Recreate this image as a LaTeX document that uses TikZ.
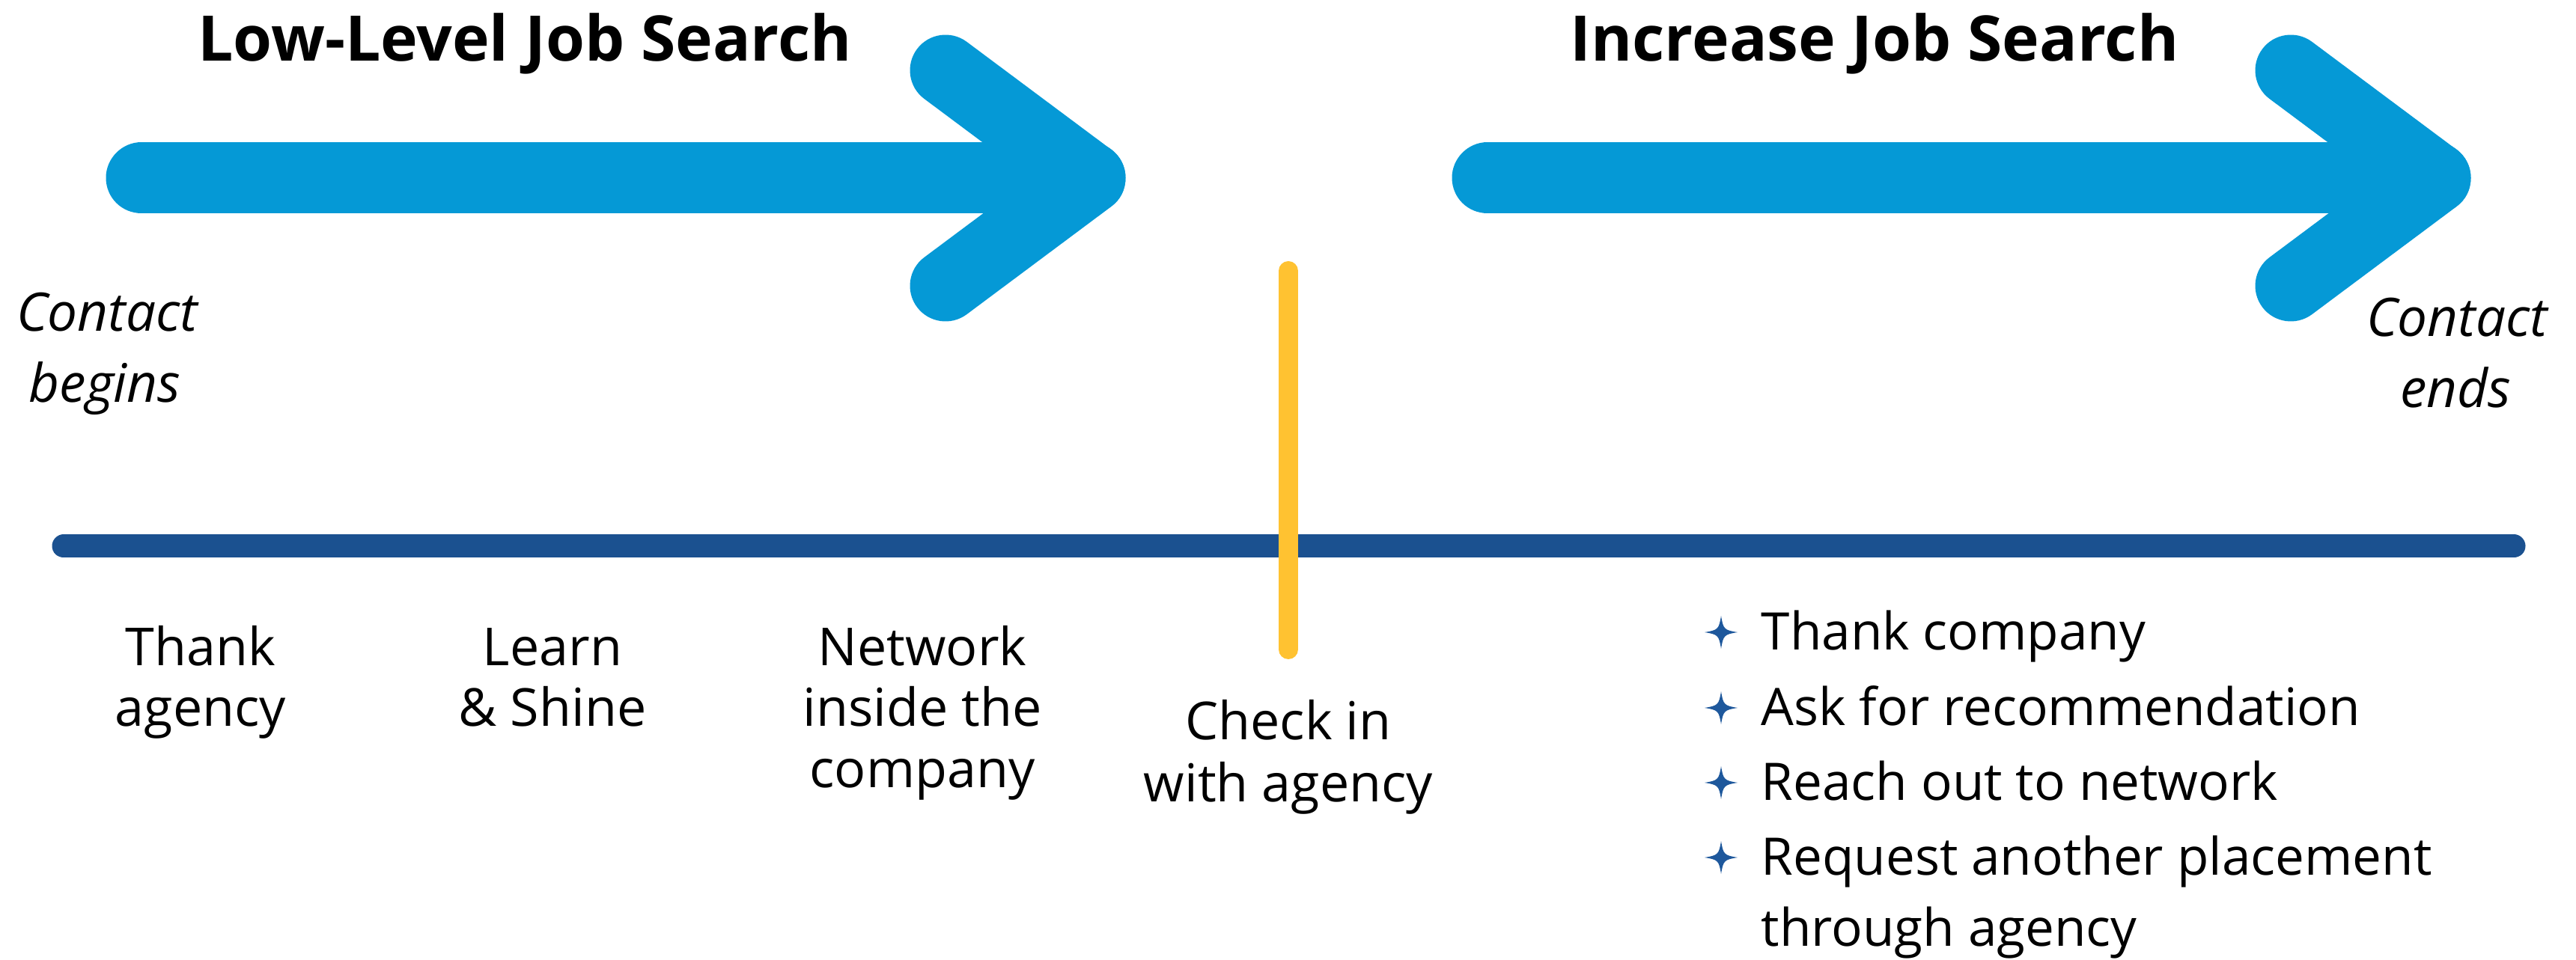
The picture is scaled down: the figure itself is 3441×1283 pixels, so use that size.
\documentclass[tikz,border=0pt]{standalone}
\usepackage{fontspec}
\setmainfont{Open Sans}
\definecolor{arrowblue}{RGB}{5,153,214}
\definecolor{lineblue}{RGB}{27,81,144}
\definecolor{markyellow}{RGB}{255,194,49}
\definecolor{starblue}{RGB}{30,88,156}
\begin{document}
\begin{tikzpicture}[x=0.25pt,y=-0.25pt,
  bigarrow/.style={draw=arrowblue, line width=23.75pt, line cap=round, line join=round},
  timeline/.style={draw=lineblue, line width=7.75pt, line cap=round},
  marker/.style={draw=markyellow, line width=6.5pt, line cap=round},
  title/.style={font=\fontsize{21}{25}\selectfont\bfseries, anchor=base, inner sep=0pt},
  lbl/.style={font=\fontsize{17.5}{20.5}\selectfont, anchor=base, inner sep=0pt},
  itlbl/.style={font=\fontsize{17.75}{24}\selectfont\itshape, anchor=base, inner sep=0pt},
  blt/.style={font=\fontsize{17.3}{24}\selectfont, anchor=base west, inner sep=0pt},
  starpic/.pic={\fill[starblue] (0,-22) .. controls (3,-4) and (4,-3) .. (22,0)
      .. controls (4,3) and (3,4) .. (0,22) .. controls (-3,4) and (-4,3) .. (-22,0)
      .. controls (-4,-3) and (-3,-4) .. cycle;}]
\useasboundingbox (0,0) rectangle (3441,1283);

% arrows
\coordinate (a1s) at (189,238);
\coordinate (a1t) at (1456,238);
\coordinate (a1u) at (1263,94);
\coordinate (a1d) at (1263,382);
\draw[bigarrow] (a1s) -- (a1t);
\draw[bigarrow] (a1u) -- (a1t) -- (a1d);

\coordinate (a2s) at (1987,238);
\coordinate (a2t) at (3253,238);
\coordinate (a2u) at (3060,94);
\coordinate (a2d) at (3060,382);
\draw[bigarrow] (a2s) -- (a2t);
\draw[bigarrow] (a2u) -- (a2t) -- (a2d);

% timeline
\coordinate (tl1) at (85,730);
\coordinate (tl2) at (3358,730);
\draw[timeline] (tl1) -- (tl2);
\coordinate (ym1) at (1721,362);
\coordinate (ym2) at (1721,868);
\draw[marker] (ym1) -- (ym2);

% titles
\node[title] (t1) at (701,81.5) {Low-Level Job Search};
\node[title] (t2) at (2504,81.5) {Increase Job Search};

% italic labels
\node[itlbl] (cb1) at (143,443) {Contact};
\node[itlbl] (cb2) at (140,538) {begins};
\node[itlbl] (ce1) at (3282,450) {Contact};
\node[itlbl] (ce2) at (3280,545) {ends};

% timeline labels
\node[lbl] (ta1) at (268,889) {Thank};
\node[lbl] (ta2) at (268,971) {agency};
\node[lbl] (ls1) at (738,889) {Learn};
\node[lbl] (ls2) at (738,971) {\& Shine};
\node[lbl] (nw1) at (1232,889) {Network};
\node[lbl] (nw2) at (1232,971) {inside the};
\node[lbl] (nw3) at (1232,1052) {company};
\node[lbl] (ci1) at (1721,989) {Check in};
\node[lbl] (ci2) at (1721,1071) {with agency};

% bullet list
\pic (s1) at (2299,845) {starpic};
\pic (s2) at (2299,946) {starpic};
\pic (s3) at (2299,1046) {starpic};
\pic (s4) at (2299,1146) {starpic};
\node[blt] (b1) at (2352,869) {Thank company};
\node[blt] (b2) at (2352,970) {Ask for recommendation};
\node[blt] (b3) at (2352,1069) {Reach out to network};
\node[blt] (b4) at (2352,1169) {Request another placement};
\node[blt] (b5) at (2352,1264) {through agency};
\end{tikzpicture}
\end{document}
